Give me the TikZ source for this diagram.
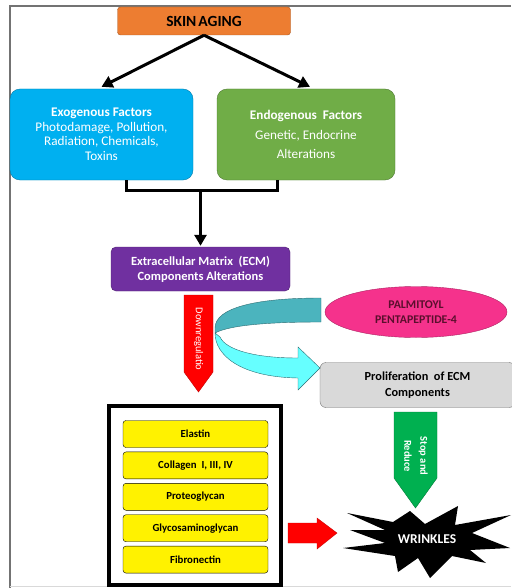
\documentclass[tikz,border=0pt]{standalone}
\usepackage{fontspec}
\setmainfont{Carlito}
\usepackage{tikz}
\usetikzlibrary{arrows.meta}
\usetikzlibrary{calc}
\usetikzlibrary{positioning}
\usetikzlibrary{shapes.geometric}
\definecolor{agorange}{RGB}{237,125,49}
\definecolor{agblue}{RGB}{0,176,240}
\definecolor{aggreen}{RGB}{112,173,71}
\definecolor{agpurple}{RGB}{112,48,160}
\definecolor{agteal}{RGB}{75,180,190}
\definecolor{agcyan}{RGB}{102,255,255}
\definecolor{agpink}{RGB}{245,50,140}
\definecolor{agmaroon}{RGB}{90,15,45}
\definecolor{agstop}{RGB}{0,176,80}
\tikzstyle{box} =[rounded corners=10pt,align=center,text=white]
\tikzstyle{conn}=[line width=3pt,-{Triangle[length=11pt,width=12pt]}]
\tikzstyle{ybox}=[draw=black,fill=yellow,rounded corners=3pt,minimum width=145pt,minimum height=27pt,font=\fontsize{10.8}{12}\selectfont\bfseries]

\begin{document}
\begin{tikzpicture}[x=1pt,y=-1pt]
	\useasboundingbox (0,0) rectangle (511,588);
	\draw[line width=1.2pt,black!55] (10,588) -- (10,6) -- (511,6);
	\draw[black!15] (10,586.5) -- (511,586.5);
	% top of the chart
	\node (skin) [box,draw=agorange!70!black,fill=agorange,rounded corners=3pt,minimum width=173pt,minimum height=28pt,text=black,font=\fontsize{15.5}{17}\selectfont\bfseries] at (204,21) {SKIN\kern-1.5pt\ AGING};
	\node (exo) [box,draw=agblue!70!black,fill=agblue,minimum width=183pt,minimum height=91pt,font=\fontsize{13.2}{14.5}\selectfont] at (101.5,134.5)
	  {\textbf{Exogenous Factors}\\Photodamage, Pollution,\\Radiation, Chemicals,\\Toxins};
	\node (endo) [box,draw=aggreen!70!black,fill=aggreen,minimum width=178pt,minimum height=91pt,font=\fontsize{13.2}{19}\selectfont] at (306,134.5)
	  {\textbf{Endogenous~~Factors}\\[1pt]Genetic, Endocrine\\Alterations};
	\node (ecm) [box,draw=agpurple!70!black,fill=agpurple,rounded corners=5pt,minimum width=179pt,minimum height=44pt,font=\fontsize{12.5}{15}\selectfont\bfseries] at (200.5,269)
	  {Extracellular Matrix~~(ECM)\\Components Alterations};
	\draw[conn] (skin.south) -- ([yshift=2pt]exo.north);
	\draw[conn] (skin.south) -- ([yshift=2pt,xshift=4pt]endo.north);
	\draw[line width=3pt] ([xshift=24.5pt]exo.south) -- ++(0,10) coordinate (bl) -| ([xshift=-29pt]endo.south);
	\draw[conn] (ecm.north |- bl) -- ([yshift=1pt]ecm.north);
	% middle part
	\node (palm) [ellipse,draw=agpink!70!black,fill=agpink,minimum width=182pt,minimum height=51pt,inner sep=0pt,align=center,text=agmaroon,font=\fontsize{11.8}{15}\selectfont\bfseries] at (416,312)
	  {PALMITOYL\\PENTAPEPTIDE-4};
	\node (prolif) [draw=black!55,fill=black!15,rounded corners=6pt,minimum width=195pt,minimum height=45pt,align=center,font=\fontsize{12.3}{16}\selectfont\bfseries] at (417.5,385)
	  {Proliferation~~of ECM\\Components};
	\draw[fill=red,draw=red!75!black] (184,295) -- (213,295) -- (213,372) -- (198.5,392) -- (184,372) -- cycle;
	\node (downtxt) [rotate=-90,text=white,font=\fontsize{10.5}{11}\selectfont] at (198.5,339) {Downregulatio};
	\draw[fill=agteal,draw=agteal!60!black] (321,298) .. controls (255,298) and (215,308) .. (215,328) -- (215,333) .. controls (230,325) and (270,322) .. (321,322) -- cycle;
	\draw[fill=agcyan,draw=agteal!60!black] (215,333) .. controls (215,355) and (240,377) .. (298,378) -- (298,390) -- (320,368) -- (298,347) -- (298,358) .. controls (255,358) and (226,350) .. (220,337) -- cycle;
	% ecm components
	\node (ecmframe) [draw,line width=3.5pt,minimum width=172pt,minimum height=179pt] at (195,495.5) {};
	\node (elastin) [ybox] at (195.5,434) {Elastin};
	\node (collagen) [ybox,below=4pt of elastin] {Collagen~~I, III, IV};
	\node (proteo) [ybox,below=4pt of collagen] {Proteoglycan};
	\node (glyco) [ybox,below=4pt of proteo] {Glycosaminoglycan};
	\node (fibro) [ybox,below=4pt of glyco] {Fibronectin};
	\draw[fill=red,draw=red!80!black] (288,523) -- (317,523) -- (317,518) -- (337,533) -- (317,549) -- (317,543) -- (288,543) -- cycle;
	% wrinkles
	\draw[fill=agstop,draw=agstop!70!black] (394,412) -- (437,412) -- (437,478) -- (415.5,508) -- (394,478) -- cycle;
	\node (stop) [rotate=-90,align=center,text=white,font=\fontsize{10.5}{16}\selectfont\bfseries] at (416,456) {Stop and\\Reduce};
	\fill[black] (410,511) -- (425,524) -- (458,506) -- (455,525) -- (511,515) -- (472,533) -- (510,548) -- (470,550)
	  -- (486,563) -- (452,556) -- (430,578) -- (418,558) -- (398,572) -- (395,556) -- (343,548) -- (385,543)
	  -- (350,530) -- (385,530) -- (347,513) -- (393,522) -- cycle;
	\node (wrinkles) [text=white,font=\fontsize{13.5}{15}\selectfont\bfseries] at (427,539) {WRINKLES};
\end{tikzpicture}
\end{document}
